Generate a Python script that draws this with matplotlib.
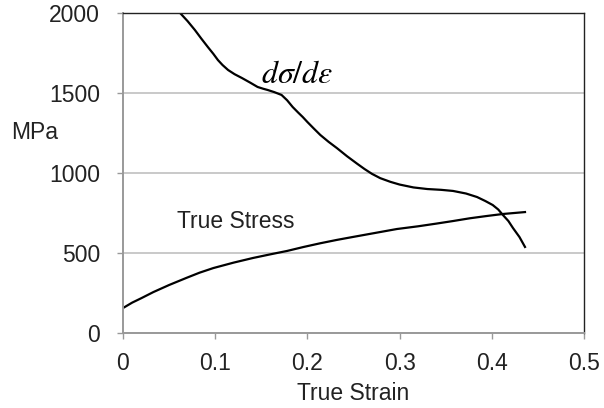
import matplotlib.pyplot as plt

# values (strain, MPa)
strain_slope = [0.062, 0.070, 0.078, 0.085, 0.092, 0.098, 0.103, 0.108, 0.114, 0.121,
                0.129, 0.138, 0.146, 0.152, 0.157, 0.164, 0.172, 0.178, 0.184, 0.190,
                0.195, 0.200, 0.207, 0.214, 0.223, 0.232, 0.243, 0.254, 0.262, 0.270,
                0.279, 0.290, 0.300, 0.315, 0.330, 0.345, 0.358, 0.372, 0.384, 0.393,
                0.401, 0.407, 0.412, 0.418, 0.423, 0.430, 0.436]
slope_mpa = [2000, 1950, 1894, 1840, 1788, 1745, 1706, 1675, 1644, 1618,
             1594, 1565, 1538, 1527, 1519, 1506, 1488, 1455, 1413, 1378,
             1350, 1319, 1278, 1238, 1195, 1156, 1105, 1058, 1025, 995,
             968, 945, 928, 910, 900, 895, 888, 872, 850, 825,
             800, 772, 738, 700, 656, 600, 538]

strain_stress = [0.0, 0.01, 0.02, 0.033, 0.05, 0.069, 0.083, 0.098, 0.12, 0.141,
                 0.16, 0.178, 0.196, 0.214, 0.232, 0.249, 0.273, 0.297, 0.32, 0.34,
                 0.358, 0.376, 0.394, 0.412, 0.436]
stress_mpa = [156, 190, 218, 256, 300, 345, 377, 406, 440, 469,
              492, 513, 538, 561, 582, 600, 625, 650, 667, 684,
              700, 717, 731, 744, 756]

x_ticks = [0, 0.1, 0.2, 0.3, 0.4, 0.5]
x_labels = ["0", "0.1", "0.2", "0.3", "0.4", "0.5"]
y_ticks = [0, 500, 1000, 1500, 2000]

plt.rcParams['font.family'] = ['Liberation Sans', 'DejaVu Sans']
plt.rcParams['mathtext.fontset'] = 'stix'

fig = plt.figure(figsize=(6.04, 4.08), dpi=100)
ax = fig.add_axes([0.2036, 0.1838, 0.7633, 0.7842])

ax.plot(strain_slope, slope_mpa, color='black', lw=1.6)
ax.plot(strain_stress, stress_mpa, color='black', lw=1.6)

ax.set_xlim(0, 0.5)
ax.set_ylim(0, 2000)
ax.set_xticks(x_ticks)
ax.set_xticklabels(x_labels)
ax.set_yticks(y_ticks)
ax.tick_params(labelsize=16.5, colors='#222222', length=4.5, width=1)
ax.tick_params(axis='both', color='#999999')
ax.tick_params(axis='y', pad=12)
ax.tick_params(axis='x', pad=9)

ax.grid(axis='y', color='#c0c0c0', lw=1.2)
ax.set_axisbelow(True)
for side in ['left', 'bottom']:
    ax.spines[side].set_color('#999999')
    ax.spines[side].set_linewidth(1.4)
for side in ['top', 'right']:
    ax.spines[side].set_color('#222222')
    ax.spines[side].set_linewidth(1.0)

ax.set_xlabel('True Strain', fontsize=16.5, color='#222222', labelpad=5)
fig.text(0.018, 0.675, 'MPa', fontsize=16.5, color='#222222', va='center', ha='left')

ax.text(0.189, 1612, r'$d\sigma/d\varepsilon$', fontsize=23, ha='center', va='center')
ax.text(0.1226, 694, 'True Stress', fontsize=16.5, ha='center', va='center', color='#222222')

fig.savefig('out.png', dpi=100)
